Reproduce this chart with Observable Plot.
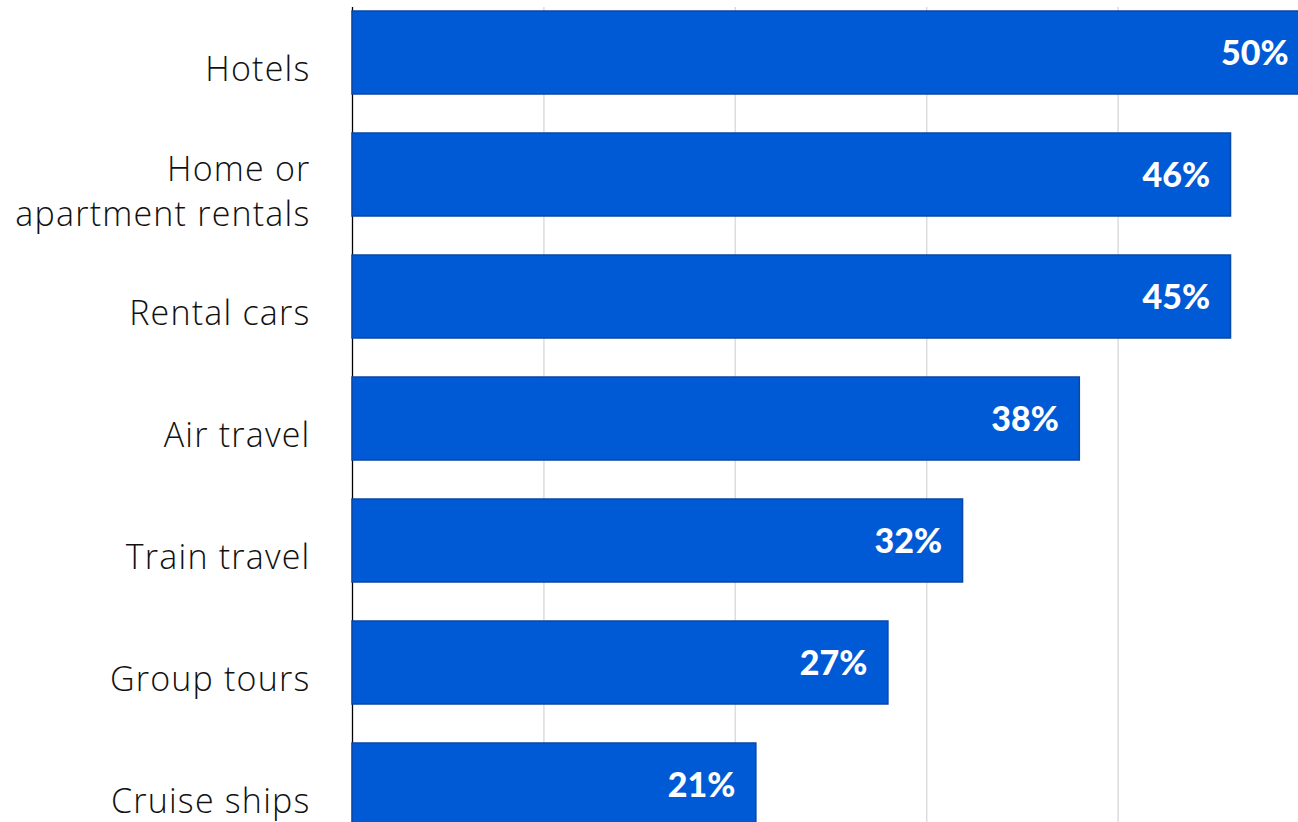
<!DOCTYPE html>
<html>
<head>
<meta charset="utf-8">
<script src="https://cdn.jsdelivr.net/npm/d3@7"></script>
<script src="https://cdn.jsdelivr.net/npm/@observablehq/plot@0.6"></script>
<style>
  html, body { margin: 0; padding: 0; background: #fff; overflow: hidden; }
  #chart svg { display: block; max-width: none !important; }
  #chart svg g[aria-label="y-axis tick label"] text { letter-spacing: 1.2px; }
</style>
</head>
<body>
<div id="chart"></div>
<script>
// Categories (top to bottom)
const categories = [
  "Hotels",
  "Home or\napartment rentals",
  "Rental cars",
  "Air travel",
  "Train travel",
  "Group tours",
  "Cruise ships"
];
// Bar lengths (percent)
const values = [50, 45.9, 45.9, 38, 31.9, 28, 21.1];
// Printed value labels
const valueLabels = ["50%", "46%", "45%", "38%", "32%", "27%", "21%"];
// Gridline positions (percent)
const gridTicks = [10, 20, 30, 40, 50];

const data = categories.map((c, i) => ({cat: c, value: values[i], label: valueLabels[i]}));

const chart = Plot.plot({
  width: 1320,
  height: 829,
  marginLeft: 352,
  marginRight: 11,
  marginTop: 7,
  marginBottom: 0,
  style: {fontFamily: "'Open Sans', Lato, sans-serif", background: "#fff", maxWidth: "none"},
  x: {domain: [0, 50], axis: null},
  y: {domain: categories, paddingInner: 0.3224, paddingOuter: 0.016, axis: null},
  marks: [
    Plot.gridX(gridTicks, {stroke: "#dcdcdc", strokeOpacity: 1, strokeWidth: 1.5}),
    Plot.ruleX([0], {stroke: "#000", strokeWidth: 1.3}),
    Plot.barX(data, {x: "value", y: "cat", fill: "#005ad6", stroke: "#0a47a6", strokeWidth: 1.5}),
    Plot.text(data, {
      x: "value", y: "cat", text: "label",
      textAnchor: "end", dx: -21, dy: 1,
      fill: "#fff", fontWeight: 900, fontSize: 34, fontFamily: "Lato, sans-serif"
    }),
    Plot.axisY({
      tickSize: 0, tickPadding: 42, fontSize: 34, fontWeight: 300,
      dy: 14, lineHeight: 1.32, fill: "#111", label: null
    })
  ]
});
document.getElementById("chart").appendChild(chart);
</script>
</body>
</html>
